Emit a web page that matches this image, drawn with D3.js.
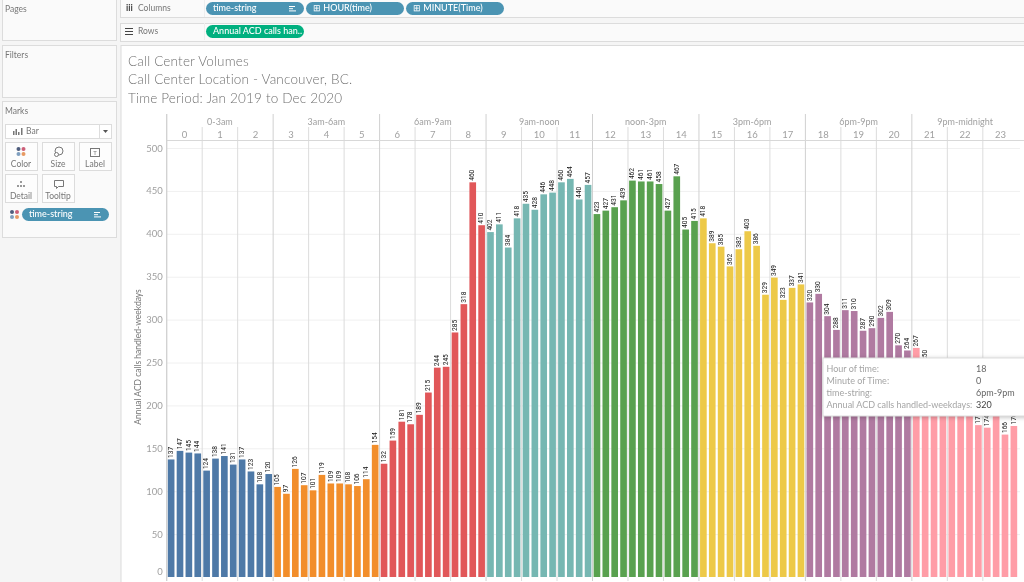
<!DOCTYPE html>
<html>
  <head>
    <meta charset="utf-8">
    <script src="https://d3js.org/d3.v7.min.js"></script>
    <style>
      html, body { margin: 0; padding: 0; background: #f5f5f5; overflow: hidden; }
      svg { display: block; font-family: Lato, "Open Sans", sans-serif; filter: blur(0.3px); }
    </style>
  </head>
  <body>
    <svg id="plot" width="1024" height="582"></svg>
    <script>
      const timeGroups = ["0-3am", "3am-6am", "6am-9am", "9am-noon", "noon-3pm", "3pm-6pm", "6pm-9pm", "9pm-midnight"];
      const hourLabels = d3.range(0, 24).map(String);
      const yTicks = [0, 50, 100, 150, 200, 250, 300, 350, 400, 450, 500];
      const titleLines = ["Call Center Volumes", "Call Center Location - Vancouver, BC.", "Time Period: Jan 2019 to Dec 2020"];

      // one value per 15 minutes (21:30-22:45 sit behind the tooltip, so estimated)
      const callsByGroup = [
        [137, 147, 145, 144, 124, 138, 141, 131, 137, 123, 108, 120],
        [105, 97, 126, 107, 101, 119, 109, 109, 108, 106, 114, 154],
        [132, 159, 181, 178, 189, 215, 244, 245, 285, 318, 460, 410],
        [402, 411, 384, 418, 435, 428, 446, 448, 460, 464, 440, 457],
        [423, 427, 431, 439, 462, 461, 461, 458, 427, 467, 405, 415],
        [418, 389, 385, 362, 382, 403, 386, 329, 349, 323, 337, 341],
        [320, 330, 304, 288, 311, 310, 287, 290, 302, 309, 270, 264],
        [267, 250, 240, 232, 221, 212, 200, 177, 174, 190, 166, 176]
      ];

      const tooltipRows = [
        ["Hour of time:", "18"],
        ["Minute of Time:", "0"],
        ["time-string:", "6pm-9pm"],
        ["Annual ACD calls handled-weekdays:", "320"]
      ];

      const groupColors = ["#4e79a7", "#f28e2b", "#e15759", "#76b7b2", "#59a14f", "#edc948", "#b07aa1", "#ff9da7"];
      const pillBlue = "#4b94b3";

      const svg = d3.select("#plot");

      function panel(x, y, w, h, fill) {
        svg.append("rect").attr("x", x + 0.5).attr("y", y + 0.5).attr("width", w).attr("height", h)
          .attr("fill", fill || "#fafafa").attr("stroke", "#dcdcdc");
      }

      function label(parent, x, y, txt, size, color, anchor) {
        return parent.append("text").attr("x", x).attr("y", y + 1)
          .attr("font-size", size).attr("fill", color).attr("text-anchor", anchor || "start")
          .attr("dominant-baseline", "middle").text(txt);
      }

      function pill(x, y, w, h, fill, txt, sort) {
        svg.append("rect").attr("x", x).attr("y", y).attr("width", w).attr("height", h)
          .attr("rx", h / 2).attr("fill", fill);
        label(svg, x + 7, y + h / 2 - 0.5, txt, 9, "#fff").attr("font-weight", 500);
        if (sort) {
          [6, 4, 7].forEach(function(l, i) {
            svg.append("rect").attr("x", x + w - 15).attr("y", y + 4 + i * 2.2)
              .attr("width", l).attr("height", 1).attr("fill", "#fff");
          });
        }
      }

      // ---- left cards and shelves
      panel(2, -1, 114, 41);
      panel(2, 45, 114, 52);
      panel(2, 101, 114, 136);
      label(svg, 5, 9, "Pages", 8.5, "#777");
      label(svg, 5, 55, "Filters", 8.5, "#777");
      label(svg, 5, 111, "Marks", 8.5, "#777");

      panel(5, 124, 106, 14, "#fff");
      svg.append("line").attr("x1", 99.5).attr("x2", 99.5).attr("y1", 124).attr("y2", 138).attr("stroke", "#ddd");
      svg.append("path").attr("d", "M103,130h5l-2.5,3z").attr("fill", "#555");
      label(svg, 26, 131, "Bar", 8.5, "#777");
      [[13, 4], [15.5, 6], [18, 3], [21, 7]].forEach(function(b) {
        svg.append("rect").attr("x", b[0]).attr("y", 135 - b[1]).attr("width", 1.5).attr("height", b[1]).attr("fill", "#777");
      });

      const markButtons = [[5, 142, "Color"], [42, 142, "Size"], [79, 142, "Label"], [5, 174, "Detail"], [42, 174, "Tooltip"]];
      markButtons.forEach(function(b) {
        panel(b[0], b[1], 32, 28, "#fdfdfd");
        label(svg, b[0] + 16, b[1] + 22, b[2], 8.5, "#777", "middle");
      });
      const dotColors = ["#4e5d7d", "#cc5f78", "#7f9fbf", "#e79a63"];
      function dots(cx, cy) {
        dotColors.forEach(function(c, i) {
          svg.append("circle").attr("cx", cx + (i % 2) * 5).attr("cy", cy + (i > 1 ? 5 : 0)).attr("r", 2).attr("fill", c);
        });
      }
      dots(18.5, 149);
      svg.append("circle").attr("cx", 59).attr("cy", 151).attr("r", 4).attr("fill", "none").attr("stroke", "#777");
      svg.append("circle").attr("cx", 56.5).attr("cy", 154.5).attr("r", 2).attr("fill", "#fdfdfd").attr("stroke", "#777");
      svg.append("rect").attr("x", 90.5).attr("y", 148.5).attr("width", 9).attr("height", 8).attr("fill", "none").attr("stroke", "#777");
      label(svg, 95, 152, "T", 6, "#777", "middle");
      [[21, 182], [18, 186], [21, 186], [24, 186]].forEach(function(p) {
        svg.append("circle").attr("cx", p[0]).attr("cy", p[1]).attr("r", 1).attr("fill", "#777");
      });
      svg.append("path").attr("d", "M54.5,180.5h9v6h-5l-2,2v-2h-2z").attr("fill", "none").attr("stroke", "#777");
      dots(12, 212);
      pill(22, 208, 87, 13, pillBlue, "time-string", true);

      panel(120, -1, 910, 18);
      panel(120, 23, 910, 18);
      svg.append("line").attr("x1", 204.5).attr("x2", 204.5).attr("y1", 0).attr("y2", 17).attr("stroke", "#eee");
      svg.append("line").attr("x1", 204.5).attr("x2", 204.5).attr("y1", 23).attr("y2", 40).attr("stroke", "#eee");
      label(svg, 126, 7.5, "iii", 9, "#444").attr("font-weight", 700);
      label(svg, 138, 7.5, "Columns", 8.5, "#777");
      [0, 3, 6].forEach(function(dy) {
        svg.append("rect").attr("x", 125).attr("y", 28 + dy).attr("width", 8).attr("height", 1).attr("fill", "#444");
      });
      label(svg, 138, 30.5, "Rows", 8.5, "#777");
      pill(206, 2, 98, 13, pillBlue, "time-string", true);
      pill(306, 2, 98, 13, pillBlue, "\u229E HOUR(time)");
      pill(406, 2, 98, 13, pillBlue, "\u229E MINUTE(Time)");
      pill(206, 25, 98, 13, "#00b07f", "Annual ACD calls han..");

      // ---- chart sheet
      panel(120.5, 45, 910, 540, "#fff");

      titleLines.forEach(function(t, i) {
        label(svg, 128, 61.5 + i * 18.5, t, 13.5, "#707070").attr("font-weight", 300).attr("letter-spacing", 0.18);
      });

      const paneLeft = 166.7, paneRight = 1018.3, paneTop = 114, hourTop = 127, headerBottom = 140.5, paneBottom = 577;

      const data = callsByGroup.flatMap(function(vals, g) {
        return vals.map(function(v) { return { group: g, value: v }; });
      });

      const x = d3.scaleBand().domain(d3.range(data.length)).range([paneLeft, paneRight]).paddingInner(0.25).paddingOuter(0.125);
      const xHour = d3.scaleBand().domain(hourLabels).range([paneLeft, paneRight]);
      const xGroup = d3.scaleBand().domain(timeGroups).range([paneLeft, paneRight]);
      const y = d3.scaleLinear().domain([0, 500]).range([paneBottom, 148]);

      // gridlines
      svg.append("g").selectAll("line").data(yTicks.slice(1)).enter().append("line")
        .attr("x1", paneLeft).attr("x2", 1020)
        .attr("y1", function(d) { return y(d) + 0.5; }).attr("y2", function(d) { return y(d) + 0.5; })
        .attr("stroke", "#f0f0f0");

      svg.append("g").selectAll("line").data(hourLabels.filter(function(h) { return h % 3 !== 0; })).enter().append("line")
        .attr("x1", function(d) { return xHour(d); }).attr("x2", function(d) { return xHour(d); })
        .attr("y1", hourTop).attr("y2", paneBottom + 4)
        .attr("stroke", "#dcdcdc");

      svg.append("g").selectAll("line").data(timeGroups).enter().append("line")
        .attr("x1", function(d) { return xGroup(d); }).attr("x2", function(d) { return xGroup(d); })
        .attr("y1", paneTop).attr("y2", paneBottom + 4)
        .attr("stroke", "#d0d0d0");

      svg.append("line").attr("x1", paneLeft).attr("x2", 1024).attr("y1", headerBottom).attr("y2", headerBottom).attr("stroke", "#d8d8d8");

      // headers
      const hourAxis = svg.append("g").attr("transform", "translate(0," + 138 + ")")
        .call(d3.axisTop(xHour).tickSize(0).tickPadding(0));
      hourAxis.select(".domain").remove();
      hourAxis.selectAll("text").attr("font-size", 9.5).attr("fill", "#a0a0a0").attr("font-family", "Lato");

      const groupAxis = svg.append("g").attr("transform", "translate(0," + 125 + ")")
        .call(d3.axisTop(xGroup).tickSize(0).tickPadding(0));
      groupAxis.select(".domain").remove();
      groupAxis.selectAll("text").attr("font-size", 9).attr("fill", "#a0a0a0").attr("font-family", "Lato");

      // y axis
      const yAxis = svg.append("g").attr("transform", "translate(" + paneLeft + ",0)")
        .call(d3.axisLeft(y).tickValues(yTicks).tickSize(0).tickPadding(4));
      yAxis.select(".domain").remove();
      yAxis.selectAll("text").attr("font-size", 9.5).attr("fill", "#a0a0a0").attr("font-family", "Lato")
        .attr("dy", function(d) { return d === 0 ? "-0.25em" : "0.32em"; });
      svg.append("line").attr("x1", paneLeft).attr("x2", paneLeft).attr("y1", paneTop).attr("y2", paneBottom + 4).attr("stroke", "#d0d0d0");
      svg.append("text").attr("transform", "translate(138.5,357) rotate(-90)").attr("text-anchor", "middle")
        .attr("dominant-baseline", "middle").attr("font-size", 8.5).attr("fill", "#777")
        .text("Annual ACD calls handled-weekdays");

      // bars
      svg.append("g").selectAll("rect").data(data).enter().append("rect")
        .attr("x", function(d, i) { return x(i); })
        .attr("width", x.bandwidth())
        .attr("y", function(d) { return y(d.value); })
        .attr("height", function(d) { return paneBottom - y(d.value); })
        .attr("fill", function(d) { return groupColors[d.group]; });

      // bar labels
      svg.append("g").selectAll("text").data(data).enter().append("text")
        .attr("transform", function(d, i) {
          return "translate(" + (x(i) + x.bandwidth() / 2) + "," + (y(d.value) - 1.5) + ") rotate(-90)";
        })
        .attr("dominant-baseline", "middle")
        .attr("font-size", 6.6).attr("fill", "#111").attr("font-family", "Roboto")
        .text(function(d) { return d.value; });

      // tooltip, as in the screenshot
      const tip = svg.append("g");
      tip.append("rect").attr("x", 823).attr("y", 358).attr("width", 210).attr("height", 58)
        .attr("fill", "#fff").attr("stroke", "#ddd")
        .style("filter", "drop-shadow(0 1px 2px rgba(0,0,0,0.25))");
      tooltipRows.forEach(function(r, i) {
        label(tip, 826.5, 368.5 + i * 12, r[0], 9, "#a5a5a5");
        label(tip, 976, 368.5 + i * 12, r[1], 9, i === 3 ? "#444" : "#666");
      });
    </script>
  </body>
</html>
